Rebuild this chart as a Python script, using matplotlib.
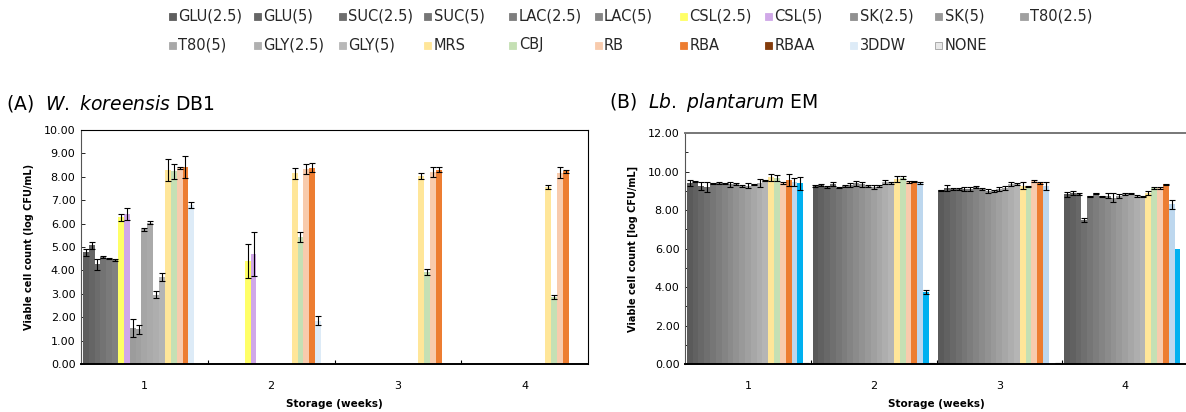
import matplotlib
matplotlib.use('Agg')
import matplotlib.pyplot as plt
from matplotlib.patches import Rectangle
from matplotlib.ticker import FixedLocator, FormatStrFormatter, MultipleLocator

# ---------------- data ----------------
series = ['GLU(2.5)', 'GLU(5)', 'SUC(2.5)', 'SUC(5)', 'LAC(2.5)', 'LAC(5)',
          'CSL(2.5)', 'CSL(5)', 'SK(2.5)', 'SK(5)', 'T80(2.5)', 'T80(5)',
          'GLY(2.5)', 'GLY(5)', 'MRS', 'CBJ', 'RB', 'RBA', 'RBAA', '3DDW', 'NONE']
weeks = [1, 2, 3, 4]
week_labels = ['1', '2', '3', '4']

# (A) W. koreensis DB1
a_week1 = [4.77, 5.07, 4.26, 4.58, 4.50, 4.45, 6.28, 6.40, 1.55, 1.48, 5.75, 6.04,
           2.95, 3.72, 8.30, 8.24, 8.38, 8.40, 6.80, 0.0, 0.0]
a_err1 = [0.15, 0.15, 0.23, 0.03, 0.03, 0.03, 0.15, 0.25, 0.38, 0.20, 0.05, 0.05,
          0.15, 0.17, 0.48, 0.32, 0.03, 0.47, 0.12, 0.0, 0.0]
a_week2 = [0, 0, 0, 0, 0, 0, 4.40, 4.70, 0, 0, 0, 0, 0, 0,
           8.15, 5.42, 8.33, 8.38, 1.85, 0.0, 0.0]
a_err2 = [0, 0, 0, 0, 0, 0, 0.72, 0.95, 0, 0, 0, 0, 0, 0,
          0.24, 0.22, 0.20, 0.19, 0.20, 0.0, 0.0]
a_week3 = [0, 0, 0, 0, 0, 0, 0, 0, 0, 0, 0, 0, 0, 0,
           8.02, 3.95, 8.20, 8.30, 0.0, 0.0, 0.0]
a_err3 = [0, 0, 0, 0, 0, 0, 0, 0, 0, 0, 0, 0, 0, 0,
          0.13, 0.13, 0.22, 0.10, 0.0, 0.0, 0.0]
a_week4 = [0, 0, 0, 0, 0, 0, 0, 0, 0, 0, 0, 0, 0, 0,
           7.55, 2.87, 8.18, 8.23, 0.0, 0.0, 0.0]
a_err4 = [0, 0, 0, 0, 0, 0, 0, 0, 0, 0, 0, 0, 0, 0,
          0.08, 0.10, 0.25, 0.05, 0.0, 0.0, 0.0]

# (B) Lb. plantarum EM
b_week1 = [9.41, 9.48, 9.24, 9.20, 9.38, 9.40, 9.38, 9.33, 9.33, 9.27, 9.27, 9.33,
           9.40, 9.52, 9.70, 9.66, 9.40, 9.55, 9.45, 9.38, 0.0]
b_err1 = [0.17, 0.03, 0.20, 0.26, 0.03, 0.03, 0.03, 0.12, 0.05, 0.05, 0.15, 0.03,
          0.20, 0.03, 0.17, 0.14, 0.05, 0.30, 0.20, 0.33, 0.05]
b_week2 = [9.24, 9.30, 9.19, 9.33, 9.15, 9.24, 9.30, 9.38, 9.33, 9.26, 9.19, 9.26,
           9.45, 9.40, 9.62, 9.67, 9.46, 9.46, 9.38, 3.72, 0.0]
b_err2 = [0.05, 0.03, 0.05, 0.10, 0.03, 0.05, 0.08, 0.12, 0.12, 0.05, 0.12, 0.05,
          0.12, 0.03, 0.15, 0.08, 0.05, 0.03, 0.05, 0.10, 0.05]
b_week3 = [9.03, 9.15, 9.07, 9.07, 9.10, 9.10, 9.19, 9.07, 8.98, 8.98, 9.07, 9.15,
           9.33, 9.33, 9.27, 9.24, 9.50, 9.41, 9.24, 0.0, 0.0]
b_err3 = [0.03, 0.17, 0.05, 0.05, 0.12, 0.12, 0.05, 0.05, 0.12, 0.05, 0.10, 0.10,
          0.10, 0.05, 0.20, 0.03, 0.05, 0.05, 0.20, 0.0, 0.05]
b_week4 = [8.81, 8.89, 8.81, 7.50, 8.72, 8.86, 8.72, 8.74, 8.64, 8.72, 8.81, 8.86,
           8.72, 8.72, 8.89, 9.15, 9.15, 9.33, 8.29, 6.00, 0.0]
b_err4 = [0.15, 0.10, 0.05, 0.10, 0.03, 0.03, 0.03, 0.12, 0.25, 0.12, 0.05, 0.03,
          0.05, 0.03, 0.10, 0.05, 0.05, 0.03, 0.25, 0.0, 0.0]

# ---------------- styles ----------------
legend_colors = ['#5e5e5e', '#666666', '#6e6e6e', '#767676', '#7e7e7e', '#868686',
                 '#ffff66', '#d0a8e8', '#909090', '#989898', '#a0a0a0', '#a8a8a8',
                 '#b0b0b0', '#b8b8b8', '#ffe699', '#c5e0b4', '#f8cbad', '#ed7d31',
                 '#843c0c', '#ddebf7', '#e8e8e8']
a_colors = ['#5e5e5e', '#656565', '#6c6c6c', '#737373', '#7a7a7a', '#808080',
            '#ffff66', '#d0a8e8', '#9c9c9c', '#a0a0a0', '#a6a6a6', '#aaaaaa',
            '#aeaeae', '#b4b4b4', '#ffe699', '#c5e0b4', '#f8cbad', '#ed7d31',
            '#ddebf7', '#00b0f0', '#e8e8e8']
b_grays = ['#5a5a5a', '#616161', '#686868', '#6f6f6f', '#767676', '#7d7d7d', '#848484',
           '#8b8b8b', '#929292', '#999999', '#a0a0a0', '#a7a7a7', '#aeaeae', '#b5b5b5']
b_colors = b_grays + ['#ffe699', '#c5e0b4', '#f8cbad', '#ed7d31', '#bdd7ee', '#00b0f0', '#e8e8e8']

W, H = 1186, 412
fig = plt.figure(figsize=(W / 100, H / 100), dpi=100)


def px_axes(x0, y0, x1, y1):
    return fig.add_axes([x0 / W, 1 - y1 / H, (x1 - x0) / W, (y1 - y0) / H])


nser = len(series)
bw = 0.972 / nser


def draw(ax, vals, errs, colors, ymax, ystep, minor, ylabel):
    for k in range(nser):
        xs = [w + (k - (nser - 1) / 2) * bw for w in weeks]
        ys = [vals[i][k] for i in range(4)]
        es = [errs[i][k] for i in range(4)]
        ax.bar(xs, ys, width=bw, color=colors[k], linewidth=0, zorder=2)
        m = [i for i in range(4) if es[i] > 0]
        if m:
            ax.errorbar([xs[i] for i in m], [ys[i] for i in m],
                        yerr=[es[i] for i in m], fmt='none', ecolor='black',
                        elinewidth=0.8, capsize=2.4, capthick=0.8, zorder=3)
    ax.set_xlim(0.5, 4.5)
    ax.set_ylim(0, ymax)
    ax.xaxis.set_major_locator(FixedLocator(weeks))
    ax.set_xticklabels(week_labels, fontsize=8)
    ax.xaxis.set_minor_locator(FixedLocator([1.5, 2.5, 3.5]))
    ax.tick_params(axis='x', which='major', length=0, pad=12)
    ax.tick_params(axis='x', which='minor', length=3, direction='in', width=0.8)
    ax.yaxis.set_major_locator(MultipleLocator(ystep))
    if minor:
        ax.yaxis.set_minor_locator(MultipleLocator(minor))
        ax.tick_params(axis='y', which='minor', length=2.5, direction='in', width=0.6)
    ax.yaxis.set_major_formatter(FormatStrFormatter('%.2f'))
    ax.tick_params(axis='y', which='major', length=3, direction='in', width=0.6,
                   labelsize=8, pad=4)
    ax.set_xlabel('Storage (weeks)', fontsize=7.5, fontweight='bold', labelpad=6)
    ax.set_ylabel(ylabel, fontsize=7, fontweight='bold', labelpad=7)
    for s in ax.spines.values():
        s.set_linewidth(0.8)
    ax.spines['bottom'].set_linewidth(1.4)


axA = px_axes(81, 130, 588, 364)
draw(axA, [a_week1, a_week2, a_week3, a_week4], [a_err1, a_err2, a_err3, a_err4],
     a_colors, 10, 1, None, 'Viable cell count (log CFU/mL)')
axA.spines['left'].set_color('#555555')

axB = px_axes(685, 133, 1188, 364)
draw(axB, [b_week1, b_week2, b_week3, b_week4], [b_err1, b_err2, b_err3, b_err4],
     b_colors, 12, 2, 1, 'Viable cell count [log CFU/mL]')
axB.spines['top'].set_color('#777777')
axB.spines['top'].set_linewidth(1.4)
axB.spines['left'].set_color('#555555')

# titles
fig.text(6 / W, 1 - 103 / H, r'(A)  $\it{W.\ koreensis}$ DB1', fontsize=13.5,
         va='center', ha='left')
fig.text(609 / W, 1 - 103 / H, r'(B)  $\it{Lb.\ plantarum}$ EM', fontsize=13.5,
         va='center', ha='left')

# legend (grid of 11 columns, drawn manually)
x0, dx = 172, 85.2
rows_y = [16, 45]
for i, (name, col) in enumerate(zip(series, legend_colors)):
    c = i % 11
    r = i // 11
    xc = x0 + c * dx
    yc = rows_y[r]
    ec = '#a0a0a0' if name == 'NONE' else col
    fig.patches.append(Rectangle(((xc - 3.5) / W, 1 - (yc + 3.5) / H), 7 / W, 7 / H,
                                 transform=fig.transFigure, facecolor=col,
                                 edgecolor=ec, linewidth=0.6, figure=fig))
    fig.text((xc + 6) / W, 1 - yc / H, name, fontsize=10.5, va='center', ha='left',
             color='#262626')

fig.savefig('out.png', dpi=100)
